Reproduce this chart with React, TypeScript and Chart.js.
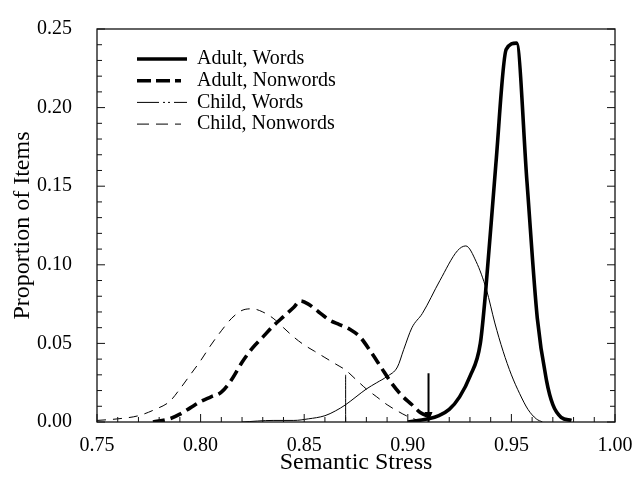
import React, { useEffect, useRef } from "react";
import { Chart, registerables } from "chart.js";

Chart.register(...registerables);

const SERIF = '"Liberation Serif", "Times New Roman", Times, serif';

// ---- data ----
const seriesLabels = ["Adult, Words", "Adult, Nonwords", "Child, Words", "Child, Nonwords"];

const adultWordsX = [0.900, 0.905, 0.910, 0.915, 0.920, 0.925, 0.930, 0.935, 0.9375, 0.9425, 0.9475, 0.9525, 0.9575, 0.9625, 0.967, 0.970, 0.974, 0.979];
const adultWordsY = [0.000, 0.001, 0.002, 0.004, 0.008, 0.016, 0.029, 0.050, 0.082, 0.164, 0.237, 0.241, 0.153, 0.066, 0.026, 0.011, 0.003, 0.001];

const adultNonwordsX = [0.777, 0.785, 0.790, 0.795, 0.800, 0.805, 0.810, 0.815, 0.820, 0.825, 0.830, 0.835, 0.840, 0.845, 0.848, 0.852, 0.857, 0.862, 0.867, 0.872, 0.877, 0.882, 0.887, 0.892, 0.897, 0.902, 0.906, 0.911];
const adultNonwordsY = [0.000, 0.002, 0.005, 0.009, 0.013, 0.016, 0.019, 0.027, 0.038, 0.047, 0.054, 0.061, 0.067, 0.073, 0.077, 0.075, 0.070, 0.065, 0.062, 0.059, 0.054, 0.045, 0.035, 0.025, 0.017, 0.011, 0.006, 0.003];

const childWordsX = [0.820, 0.835, 0.845, 0.852, 0.860, 0.865, 0.870, 0.875, 0.880, 0.885, 0.890, 0.895, 0.898, 0.902, 0.907, 0.9155, 0.924, 0.928, 0.933, 0.938, 0.942, 0.946, 0.950, 0.954, 0.958, 0.962, 0.965];
const childWordsY = [0.000, 0.001, 0.001, 0.002, 0.004, 0.007, 0.011, 0.016, 0.021, 0.025, 0.029, 0.035, 0.046, 0.060, 0.069, 0.090, 0.109, 0.112, 0.102, 0.084, 0.063, 0.045, 0.030, 0.018, 0.008, 0.002, 0.000];

const childNonwordsX = [0.750, 0.760, 0.770, 0.778, 0.785, 0.790, 0.795, 0.800, 0.805, 0.810, 0.815, 0.820, 0.825, 0.830, 0.835, 0.840, 0.845, 0.850, 0.855, 0.860, 0.865, 0.870, 0.875, 0.880, 0.885, 0.890, 0.895, 0.900, 0.905];
const childNonwordsY = [0.001, 0.002, 0.004, 0.008, 0.013, 0.021, 0.030, 0.039, 0.049, 0.058, 0.066, 0.071, 0.072, 0.070, 0.066, 0.060, 0.054, 0.049, 0.045, 0.041, 0.037, 0.033, 0.027, 0.021, 0.016, 0.011, 0.007, 0.0035, 0.001];

// criterion markers (child thin line, adult arrow)
const childCriterionX = 0.87;
const childCriterionTop = 0.030;
const adultCriterionX = 0.91;
const adultCriterionTop = 0.031;

const xTickValues = [0.75, 0.8, 0.85, 0.9, 0.95, 1.0];
const yTickValues = [0, 0.05, 0.1, 0.15, 0.2, 0.25];
const xMin = 0.75, xMax = 1.0, xMinorStep = 0.01;
const yMin = 0, yMax = 0.25, yMinorStep = 0.01;

const toPoints = (xs: number[], ys: number[]) => xs.map((x, i) => ({ x, y: ys[i] }));

const framePlugin = {
  id: "frameTicks",
  afterDraw(chart: any) {
    const { ctx, chartArea, scales } = chart;
    const { left, right, top, bottom } = chartArea;
    const xs = scales.x, ys = scales.y;
    ctx.save();
    ctx.strokeStyle = "#111";
    ctx.lineWidth = 1.3;
    ctx.strokeRect(left, top, right - left, bottom - top);
    ctx.lineWidth = 1;
    ctx.beginPath();
    const nx = Math.round((xMax - xMin) / xMinorStep);
    for (let i = 0; i <= nx; i++) {
      const px = xs.getPixelForValue(xMin + i * xMinorStep);
      const len = i % 5 === 0 ? 8 : 5;
      ctx.moveTo(px, bottom);
      ctx.lineTo(px, bottom - len);
    }
    const ny = Math.round((yMax - yMin) / yMinorStep);
    for (let i = 0; i <= ny; i++) {
      const py = ys.getPixelForValue(yMin + i * yMinorStep);
      const len = i % 5 === 0 ? 8 : 5;
      ctx.moveTo(left, py);
      ctx.lineTo(left + len, py);
      ctx.moveTo(right, py);
      ctx.lineTo(right - len, py);
    }
    ctx.stroke();

    // arrowhead on the adult criterion marker
    chart.data.datasets.forEach((ds: any, i: number) => {
      if (!ds.arrow) return;
      const meta = chart.getDatasetMeta(i);
      const p = meta.data[0];
      if (!p) return;
      ctx.fillStyle = "#000";
      ctx.beginPath();
      ctx.moveTo(p.x, p.y);
      ctx.lineTo(p.x - 4, p.y - 10);
      ctx.lineTo(p.x + 4, p.y - 10);
      ctx.closePath();
      ctx.fill();
    });

    // legend
    const x0 = left + 40, x1 = x0 + 50, tx = x1 + 10;
    let row = 0;
    chart.data.datasets.forEach((ds: any) => {
      if (!ds.legendDash) return;
      const yy = top + 30 + row * 21.7;
      row++;
      ctx.strokeStyle = "#000";
      ctx.lineWidth = ds.borderWidth;
      ctx.setLineDash(ds.legendDash);
      ctx.beginPath();
      ctx.moveTo(x0, yy);
      ctx.lineTo(x1, yy);
      ctx.stroke();
      ctx.setLineDash([]);
      ctx.fillStyle = "#000";
      ctx.font = `20px ${SERIF}`;
      ctx.textAlign = "left";
      ctx.textBaseline = "middle";
      ctx.fillText(ds.label, tx, yy);
    });
    ctx.restore();
  },
};

export default function App() {
  const ref = useRef<HTMLCanvasElement | null>(null);

  useEffect(() => {
    if (!ref.current) return;
    const common = { pointRadius: 0, borderColor: "#000", fill: false, cubicInterpolationMode: "monotone" as const };
    const chart = new Chart(ref.current, {
      type: "line",
      data: {
        datasets: [
          { ...common, label: seriesLabels[0], data: toPoints(adultWordsX, adultWordsY), borderWidth: 3.6, borderDash: [], legendDash: [], borderJoinStyle: "miter" } as any,
          { ...common, label: seriesLabels[1], data: toPoints(adultNonwordsX, adultNonwordsY), borderWidth: 3.6, borderDash: [12, 6], legendDash: [14, 5, 14, 5, 6] } as any,
          { ...common, label: seriesLabels[2], data: toPoints(childWordsX, childWordsY), borderWidth: 1, borderDash: [], legendDash: [22, 4, 2, 3, 2, 4, 20] } as any,
          { ...common, label: seriesLabels[3], data: toPoints(childNonwordsX, childNonwordsY), borderWidth: 1, borderDash: [9, 7], legendDash: [12, 7, 12, 7, 6] } as any,
          { ...common, label: "child criterion", data: [{ x: childCriterionX, y: 0 }, { x: childCriterionX, y: childCriterionTop }], borderWidth: 1 } as any,
          { ...common, label: "adult criterion", data: [{ x: adultCriterionX, y: 0 }, { x: adultCriterionX, y: adultCriterionTop }], borderWidth: 2, arrow: true } as any,
        ],
      },
      options: {
        animation: false,
        responsive: false,
        layout: { padding: { left: 0, right: 24, top: 18, bottom: 0 } },
        plugins: { legend: { display: false }, tooltip: { enabled: false } },
        scales: {
          x: {
            type: "linear",
            min: xMin,
            max: xMax,
            grid: { display: false },
            border: { display: false },
            afterBuildTicks: (s: any) => { s.ticks = xTickValues.map((v) => ({ value: v })); },
            afterFit: (s: any) => { s.height = 58; },
            ticks: {
              callback: (v: any) => Number(v).toFixed(2),
              color: "#000",
              font: { family: SERIF, size: 20 },
              padding: 4,
              maxRotation: 0,
              autoSkip: false,
            },
            title: { display: true, text: "Semantic Stress", color: "#000", font: { family: SERIF, size: 24 }, padding: { top: 0, bottom: 3 } },
          },
          y: {
            type: "linear",
            min: yMin,
            max: yMax,
            grid: { display: false },
            border: { display: false },
            afterBuildTicks: (s: any) => { s.ticks = yTickValues.map((v) => ({ value: v })); },
            afterFit: (s: any) => { s.width = 97; },
            ticks: {
              callback: (v: any) => Number(v).toFixed(2),
              color: "#000",
              font: { family: SERIF, size: 20 },
              padding: 17,
            },
            title: { display: true, text: "Proportion of Items", color: "#000", font: { family: SERIF, size: 24 }, padding: { top: 8, bottom: 0 } },
          },
        },
      },
      plugins: [framePlugin],
    });
    return () => chart.destroy();
  }, []);

  return (
    <div style={{ position: "fixed", left: 0, top: 0, width: 639, height: 480, background: "#fff" }}>
      <canvas ref={ref} width={639} height={480} style={{ display: "block" }} />
    </div>
  );
}
